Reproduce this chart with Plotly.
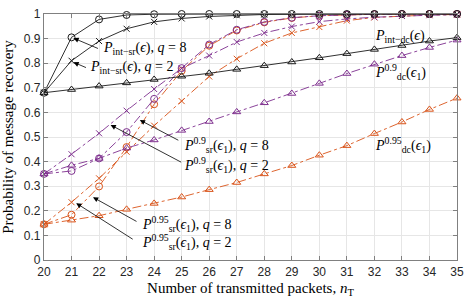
import plotly.graph_objects as go

n_T = list(range(20, 36))
x_ticks = list(range(20, 36))
y_ticks = [0, 0.1, 0.2, 0.3, 0.4, 0.5, 0.6, 0.7, 0.8, 0.9, 1]
y_tick_labels = ["0", "0.1", "0.2", "0.3", "0.4", "0.5", "0.6", "0.7", "0.8", "0.9", "1"]

p_int_sr_q8 = [0.68, 0.905, 0.978, 0.996, 0.999, 1, 1, 1, 1, 1, 1, 1, 1, 1, 1, 1]
p_int_sr_q2 = [0.68, 0.81, 0.89, 0.94, 0.968, 0.982, 0.99, 0.995, 0.998, 0.999, 1, 1, 1, 1, 1, 1]
p_int_dc = [0.68, 0.693, 0.707, 0.72, 0.734, 0.747, 0.759, 0.775, 0.79, 0.805, 0.822, 0.839, 0.856, 0.872, 0.89, 0.904]

p_dc_09 = [0.35, 0.385, 0.413, 0.455, 0.488, 0.527, 0.563, 0.602, 0.639, 0.677, 0.718, 0.758, 0.796, 0.831, 0.864, 0.894]
p_dc_095 = [0.145, 0.162, 0.18, 0.206, 0.23, 0.256, 0.286, 0.315, 0.35, 0.384, 0.426, 0.465, 0.514, 0.561, 0.612, 0.658]

p_sr_09_q8 = [0.35, 0.362, 0.413, 0.52, 0.655, 0.78, 0.876, 0.936, 0.968, 0.985, 0.993, 0.997, 0.999, 1, 1, 1]
p_sr_09_q2 = [0.35, 0.43, 0.515, 0.607, 0.695, 0.779, 0.831, 0.886, 0.923, 0.949, 0.969, 0.98, 0.987, 0.992, 0.995, 0.997]
p_sr_095_q8 = [0.145, 0.184, 0.299, 0.459, 0.633, 0.769, 0.871, 0.933, 0.966, 0.984, 0.993, 0.997, 0.999, 1, 1, 1]
p_sr_095_q2 = [0.145, 0.235, 0.332, 0.44, 0.546, 0.646, 0.746, 0.818, 0.881, 0.923, 0.947, 0.973, 0.986, 0.992, 0.996, 0.998]

BLACK = "#1a1a1a"
PURPLE = "#7E2F8E"
ORANGE = "#D95319"

series = [
    (p_sr_095_q2, ORANGE, "x-thin", "dashdot"),
    (p_sr_095_q8, ORANGE, "circle-open", "dashdot"),
    (p_dc_095, ORANGE, "triangle-up-open", "dashdot"),
    (p_sr_09_q2, PURPLE, "x-thin", "dashdot"),
    (p_sr_09_q8, PURPLE, "circle-open", "dashdot"),
    (p_dc_09, PURPLE, "triangle-up-open", "dashdot"),
    (p_int_dc, BLACK, "triangle-up-open", "solid"),
    (p_int_sr_q2, BLACK, "x-thin", "solid"),
    (p_int_sr_q8, BLACK, "circle-open", "solid"),
]

fig = go.Figure()
for vals, col, sym, dash in series:
    fig.add_trace(go.Scatter(
        x=n_T, y=vals, mode="lines+markers",
        line=dict(color=col, width=0.9, dash=dash),
        marker=dict(symbol=sym, size=7 if sym != "x-thin" else 6,
                    color=col, line=dict(color=col, width=1.0)),
        showlegend=False, cliponaxis=False,
    ))

SERIF = "Liberation Serif"
FS = 14

# arrows: head in data coords, tail offset in pixels
arrows = [
    (21.07, 0.902, 26, 11),
    (21.07, 0.804, 14, 6),
    (23.48, 0.569, 40, 21),
    (22.42, 0.549, 72, 38),
    (21.78, 0.255, 45, 25),
    (21.17, 0.231, 58, 37),
]
for hx, hy, ax, ay in arrows:
    fig.add_annotation(x=hx, y=hy, ax=ax, ay=ay, text="", showarrow=True,
                       arrowhead=2, arrowsize=1.3, arrowwidth=0.8,
                       arrowcolor="black", standoff=0)

labels = [
    (22.06, 0.86, "<i>P</i><sub>int−sr</sub>(<i>ϵ</i>), <i>q</i> = 8"),
    (21.58, 0.784, "<i>P</i><sub>int−sr</sub>(<i>ϵ</i>), <i>q</i> = 2"),
    (31.94, 0.91, "<i>P</i><sub>int−dc</sub>(<i>ϵ</i>)"),
    (31.94, 0.765, "<i>P</i><sup>0.9</sup><sub>dc</sub>(<i>ϵ</i><sub>1</sub>)"),
    (31.94, 0.467, "<i>P</i><sup>0.95</sup><sub>dc</sub>(<i>ϵ</i><sub>1</sub>)"),
    (25.02, 0.467, "<i>P</i><sup>0.9</sup><sub>sr</sub>(<i>ϵ</i><sub>1</sub>), <i>q</i> = 8"),
    (25.02, 0.388, "<i>P</i><sup>0.9</sup><sub>sr</sub>(<i>ϵ</i><sub>1</sub>), <i>q</i> = 2"),
    (23.48, 0.145, "<i>P</i><sup>0.95</sup><sub>sr</sub>(<i>ϵ</i><sub>1</sub>), <i>q</i> = 8"),
    (23.48, 0.072, "<i>P</i><sup>0.95</sup><sub>sr</sub>(<i>ϵ</i><sub>1</sub>), <i>q</i> = 2"),
]
for lx, ly, txt in labels:
    fig.add_annotation(x=lx, y=ly, text=txt, showarrow=False,
                       xanchor="left", yanchor="middle",
                       font=dict(family=SERIF, size=FS, color="black"))

fig.update_layout(
    width=471, height=300,
    margin=dict(l=42, r=7, t=7, b=38),
    paper_bgcolor="white", plot_bgcolor="white",
    font=dict(family="Liberation Sans", size=12, color="#262626"),
)
fig.update_xaxes(
    range=[20, 35], tickvals=x_ticks, ticktext=[str(v) for v in x_ticks],
    showgrid=True, gridcolor="#e6e6e6", gridwidth=1,
    showline=True, linecolor="#808080", linewidth=1.2, mirror="ticks",
    ticks="inside", ticklen=4, tickcolor="#808080",
    zeroline=False,
    title=dict(text="Number of transmitted packets, <i>n</i><sub>T</sub>",
               font=dict(family=SERIF, size=15, color="black"), standoff=4),
    tickfont=dict(size=12, color="#262626"),
)
fig.update_yaxes(
    range=[0, 1], tickvals=y_ticks, ticktext=y_tick_labels,
    showgrid=True, gridcolor="#e6e6e6", gridwidth=1,
    showline=True, linecolor="#808080", linewidth=1.2, mirror="ticks",
    ticks="inside", ticklen=4, tickcolor="#808080",
    zeroline=False,
    title=dict(text="Probability of message recovery",
               font=dict(family=SERIF, size=15, color="black"), standoff=6),
    tickfont=dict(size=12, color="#262626"),
)

fig.write_html("out.html", config={"displayModeBar": False},
               post_script="document.body.style.margin='0';document.body.style.overflow='hidden';")
